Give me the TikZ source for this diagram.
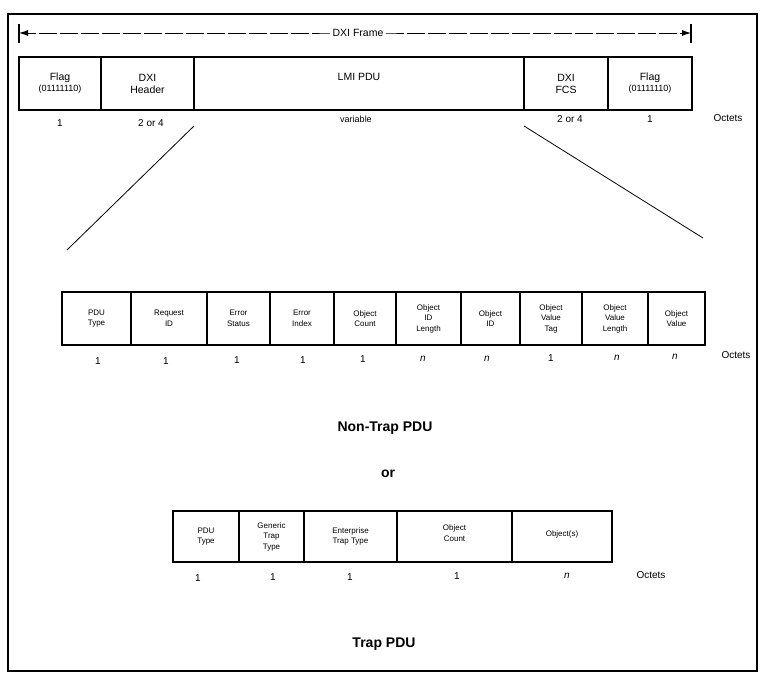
\documentclass[tikz,border=0pt]{standalone}
\usepackage{fontspec}
\setmainfont{Liberation Sans}
\usetikzlibrary{arrows.meta}
\begin{document}
\begin{tikzpicture}[x=1pt,y=-1pt,
  cell/.style={draw,line width=1.2pt,inner sep=0pt,outer sep=0pt,align=center},
  toprow/.style={cell,minimum height=53pt,font=\fontsize{10.5}{12}\selectfont},
  midrow/.style={cell,minimum height=53pt,font=\fontsize{8}{10.5}\selectfont},
  traprow/.style={cell,minimum height=51pt,font=\fontsize{8}{10.5}\selectfont},
  num/.style={inner sep=0pt,font=\fontsize{10}{12}\selectfont},
  title/.style={inner sep=0pt,font=\fontsize{14}{16}\selectfont\bfseries},
  fan/.style={line width=0.8pt},
  small/.style={font=\fontsize{8}{9}\selectfont}]
\useasboundingbox (0,0) rectangle (764,676);
% outer frame
\draw[line width=1.2pt] (8,14) rectangle (757,671);

% frame length arrow
\node[inner sep=2pt,font=\fontsize{10.5}{12}\selectfont] (frm) at (358,33) {DXI Frame};
\coordinate (arrL) at (19,33);
\coordinate (arrR) at (691,33);
\draw[line width=1.2pt] (19,24) -- (19,43);
\draw[line width=1.2pt] (691,24) -- (691,43);
\draw[line width=0.9pt,dash pattern=on 18pt off 3pt,-{Latex[length=9pt,width=6pt]}] (frm.west) -- ++(-4,0) -- (arrL);
\draw[line width=0.9pt,dash pattern=on 18pt off 3pt,-{Latex[length=9pt,width=6pt]}] (frm.east) -- ++(4,0) -- (arrR);

% DXI frame fields
\node[toprow,minimum width=82pt] (fl1) at (60,83.5) {Flag\\[-1pt]{\small (01111110)}};
\node[toprow,minimum width=93pt] (hdr) at (147.5,83.5) {DXI\\Header};
\node[toprow,minimum width=330pt] (lmi) at (359,83.5) {LMI PDU\\[2pt]};
\node[toprow,minimum width=84pt] (fcs) at (566,83.5) {DXI\\FCS};
\node[toprow,minimum width=84pt] (fl2) at (650,83.5) {Flag\\[-1pt]{\small (01111110)}};

\node[num] (n1) at (60,123) {1};
\node[num] (n2) at (151,123) {2 or 4};
\node[num,font=\fontsize{9}{11}\selectfont] (n3) at (356,119) {variable};
\node[num] (n4) at (570,119) {2 or 4};
\node[num] (n5) at (650,119) {1};
\node[num] (n6) at (728,118) {Octets};

% expansion of the LMI PDU
\coordinate (fanLt) at (194,126);
\coordinate (fanLb) at (67,250);
\coordinate (fanRt) at (524,126);
\coordinate (fanRb) at (703,238);
\draw[fan] (fanLt) -- (fanLb);
\draw[fan] (fanRt) -- (fanRb);

% non-trap PDU fields
\node[midrow,minimum width=69pt] (m1) at (96.5,318.5) {PDU\\Type};
\node[midrow,minimum width=76pt] (m2) at (169,318.5) {Request\\ID};
\node[midrow,minimum width=63pt] (m3) at (238.5,318.5) {Error\\Status};
\node[midrow,minimum width=64pt] (m4) at (302,318.5) {Error\\Index};
\node[midrow,minimum width=62pt] (m5) at (365,318.5) {Object\\Count};
\node[midrow,minimum width=65pt] (m6) at (428.5,318.5) {Object\\ID\\Length};
\node[midrow,minimum width=59pt] (m7) at (490.5,318.5) {Object\\ID};
\node[midrow,minimum width=62pt] (m8) at (551,318.5) {Object\\Value\\Tag};
\node[midrow,minimum width=66pt] (m9) at (615,318.5) {Object\\Value\\Length};
\node[midrow,minimum width=57pt] (m10) at (676.5,318.5) {Object\\Value};

\node[num] (k1) at (98,361) {1};
\node[num] (k2) at (166,361) {1};
\node[num] (k3) at (237,360) {1};
\node[num] (k4) at (303,360) {1};
\node[num] (k5) at (363,359) {1};
\node[num] (k6) at (423,359) {\itshape n};
\node[num] (k7) at (487,359) {\itshape n};
\node[num] (k8) at (551,358) {1};
\node[num] (k9) at (617,358) {\itshape n};
\node[num] (k10) at (675,357) {\itshape n};
\node[num] (k11) at (736,355) {Octets};

\node[title] (nt) at (385,428) {Non-Trap PDU};
\node[title] (or) at (388,474) {or};

% trap PDU fields
\node[traprow,minimum width=66pt] (t1) at (206,536.5) {PDU\\Type};
\node[traprow,minimum width=65pt] (t2) at (271.5,536.5) {Generic\\Trap\\Type};
\node[traprow,minimum width=93pt] (t3) at (350.5,536.5) {Enterprise\\Trap Type};
\node[traprow,minimum width=115pt] (t4) at (454.5,536.5) {Object\\Count\\[-4pt]};
\node[traprow,minimum width=100pt] (t5) at (562,536.5) {Object(s)\\[-4pt]};

\node[num] (r1) at (198,578) {1};
\node[num] (r2) at (273,577) {1};
\node[num] (r3) at (350,577) {1};
\node[num] (r4) at (457,576) {1};
\node[num] (r5) at (567,576) {\itshape n};
\node[num] (r6) at (651,575) {Octets};

\node[title] (tp) at (384,644) {Trap PDU};
\end{tikzpicture}
\end{document}
